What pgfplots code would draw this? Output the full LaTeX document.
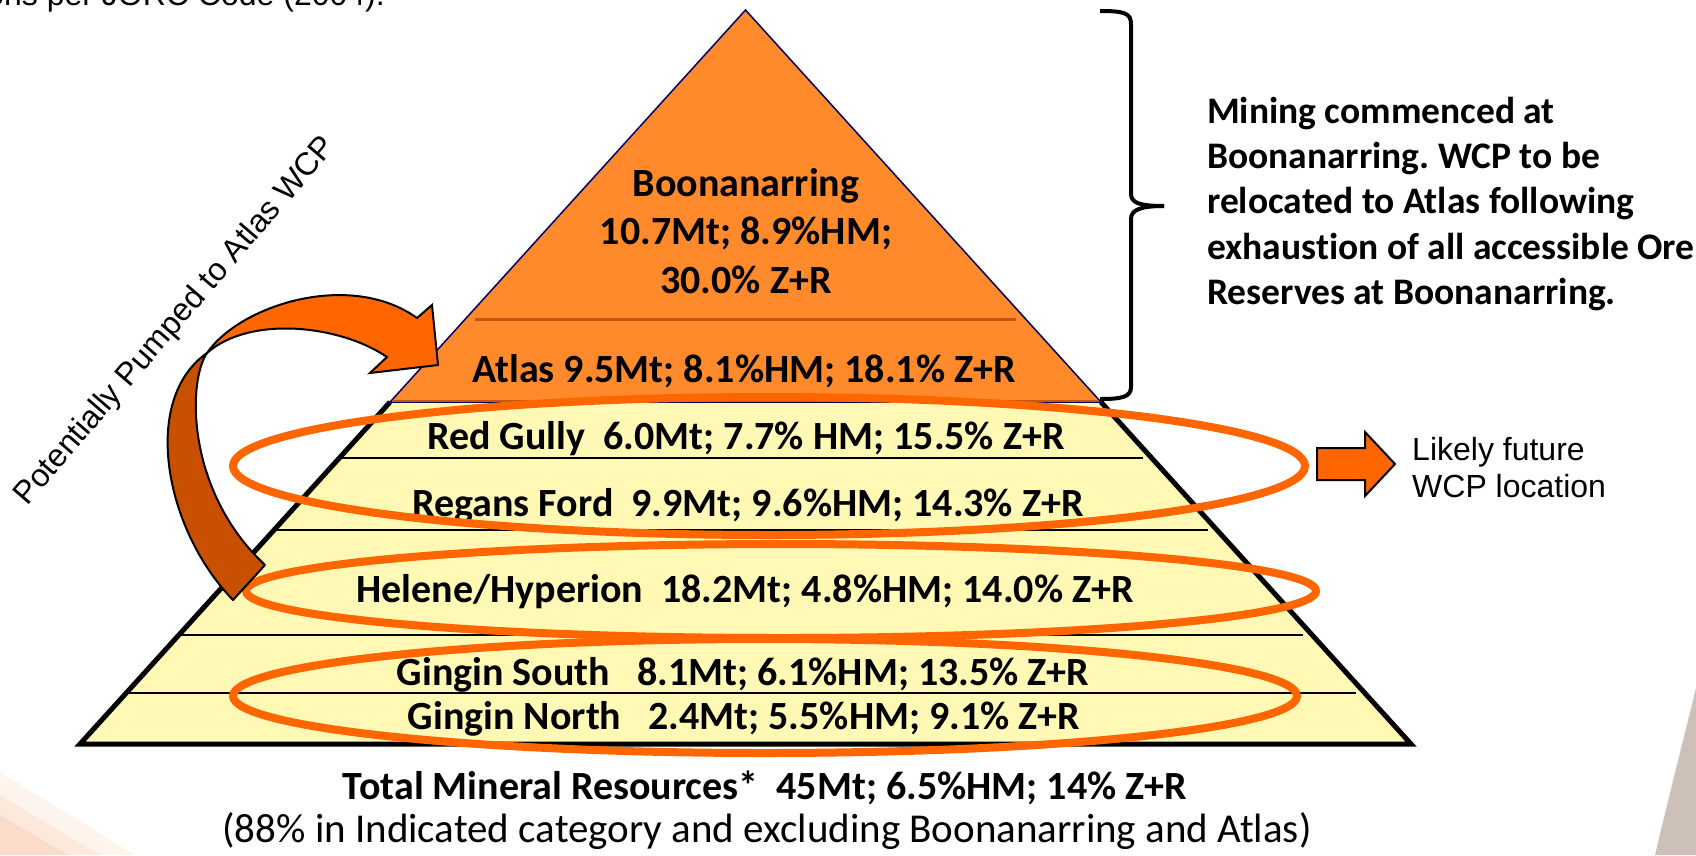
\documentclass[border=0pt]{standalone}
\usepackage{pgfplots}
\pgfplotsset{compat=1.18}
\usepackage{fontspec}
\setmainfont{Carlito}[Ligatures=NoCommon]
\newfontfamily\arial{Liberation Sans}
\frenchspacing
\definecolor{orfill}{RGB}{255,138,43}
\definecolor{ordark}{RGB}{196,87,14}
\definecolor{yel}{RGB}{255,249,181}
\definecolor{ell}{RGB}{255,102,0}
\definecolor{arrdark}{RGB}{200,80,0}
\definecolor{stone}{RGB}{204,192,184}
\definecolor{sand}{RGB}{240,150,90}
\begin{document}
\begin{tikzpicture}
\begin{axis}[scale only axis, width=1696pt, height=855pt,
  xmin=0, xmax=1696, ymin=0, ymax=855, y dir=reverse,
  hide axis, clip=false]
% background decorations
\addplot[fill=sand, fill opacity=0.10, draw=none] coordinates {(0,772) (135,855) (0,855)} -- cycle;
\addplot[fill=sand, fill opacity=0.12, draw=none] coordinates {(0,795) (100,855) (0,855)} -- cycle;
\addplot[fill=sand, fill opacity=0.15, draw=none] coordinates {(0,815) (68,855) (0,855)} -- cycle;
\fill[stone] (1696,688) .. controls (1682,745) and (1668,800) .. (1655,855) -- (1696,855) -- cycle;
% yellow lower part
\addplot[fill=yel, draw=black, line width=5pt] coordinates {(390.1,402) (80,744) (1411,744) (1100.9,402)};
% orange top triangle
\addplot[fill=orfill, draw=black!60!blue, line width=1.5pt] coordinates {(745.5,10) (1100.9,402) (390.1,402)} -- cycle;
\addplot[draw=ordark, line width=2.5pt] coordinates {(392,401) (1099,401)};
\addplot[draw=ordark, line width=3pt] coordinates {(475,319) (1016,319)};
% internal lines
\addplot[draw=black, line width=2.5pt] coordinates {(339,458) (1143,458)};
\addplot[draw=black, line width=2.5pt] coordinates {(274,530) (1208,530)};
\addplot[draw=black, line width=2.5pt] coordinates {(179,635) (1303,635)};
\addplot[draw=black, line width=2.5pt] coordinates {(126,693) (1356,693)};
% labels
\begin{scope}[every node/.style={font=\fontsize{40}{48}\selectfont\bfseries, inner sep=0pt}]
\node[anchor=base] at (746,196) {Boonanarring};
\node[anchor=base] at (746,244.5) {10.7Mt; 8.9\%HM;};
\node[anchor=base] at (746,293) {30.0\% Z+R};
\node[anchor=base] at (744,382) {Atlas 9.5Mt; 8.1\%HM; 18.1\% Z+R};
\node[anchor=base] at (746,449) {Red Gully\ \ 6.0Mt; 7.7\% HM; 15.5\% Z+R};
\node[anchor=base] at (748,516) {Regans Ford\ \ 9.9Mt; 9.6\%HM; 14.3\% Z+R};
\node[anchor=base] at (745,602) {Helene/Hyperion\ \ 18.2Mt; 4.8\%HM; 14.0\% Z+R};
\node[anchor=base] at (743,685) {Gingin South\ \ \ 8.1Mt; 6.1\%HM; 13.5\% Z+R};
\node[anchor=base] at (744,729) {Gingin North\ \ \ 2.4Mt; 5.5\%HM; 9.1\% Z+R};
\node[anchor=base] at (765,799) {Total Mineral Resources*\ \ 45Mt; 6.5\%HM; 14\% Z+R};
\node[anchor=base, font=\fontsize{41}{48}\selectfont] at (767,842) {(88\% in Indicated category and excluding Boonanarring and Atlas)};
\end{scope}
\begin{scope}[every node/.style={font=\fontsize{37.5}{45}\selectfont\bfseries, inner sep=0pt}]
\node[anchor=base west] at (1207,123) {Mining commenced at};
\node[anchor=base west] at (1207,168) {Boonanarring. WCP to be};
\node[anchor=base west] at (1207,213) {relocated to Atlas following};
\node[anchor=base west] at (1207,259) {exhaustion of all accessible Ore};
\node[anchor=base west] at (1207,304) {Reserves at Boonanarring.};
\end{scope}
\begin{scope}[every node/.style={font=\arial\fontsize{32}{38}\selectfont, inner sep=0pt}]
\node[anchor=base west] at (1412,460) {Likely future};
\node[anchor=base west] at (1412,497) {WCP location};
\node[anchor=base west, rotate=49.3] at (27,507) {Potentially Pumped to Atlas WCP};
\node[anchor=base east] at (385,5) {tions per JORC Code (2004).};
\end{scope}
% ellipses
\draw[ell, line width=8pt] (769,466) ellipse [x radius=536, y radius=69];
\draw[ell, line width=8pt] (781,591) ellipse [x radius=535, y radius=47];
\draw[ell, line width=8pt] (765,696) ellipse [x radius=532, y radius=57];
% bracket
\draw[black, line width=4pt] (1100,11) .. controls (1124,11) and (1131,13) .. (1131,24) -- (1131,194) .. controls (1131,203) and (1140,206) .. (1164,206);
\draw[black, line width=4pt] (1164,206) .. controls (1140,206) and (1131,210) .. (1131,219) -- (1131,387) .. controls (1131,397) and (1122,399) .. (1100,399);
% right block arrow
\addplot[fill=ell, draw=black, line width=2pt] coordinates {(1317,448) (1365,448) (1365,432) (1395,464) (1365,496) (1365,480) (1317,480)} -- cycle;
% curved arrow
\filldraw[fill=arrdark, draw=black, line width=2pt, line join=round] (233,600) .. controls (165,530) and (140,400) .. (207,353) .. controls (188,380) and (185,490) .. (265,565) -- cycle;
\filldraw[fill=ell, draw=black, line width=2pt, line join=miter] (207,353) .. controls (240,305) and (350,270) .. (417,318) -- (432,305) -- (438,365) -- (370,373) -- (387,357) .. controls (340,325) and (250,315) .. (207,353) -- cycle;
\end{axis}
\pgfresetboundingbox
\path (current axis.south west) rectangle (current axis.north east);
\end{tikzpicture}
\end{document}
